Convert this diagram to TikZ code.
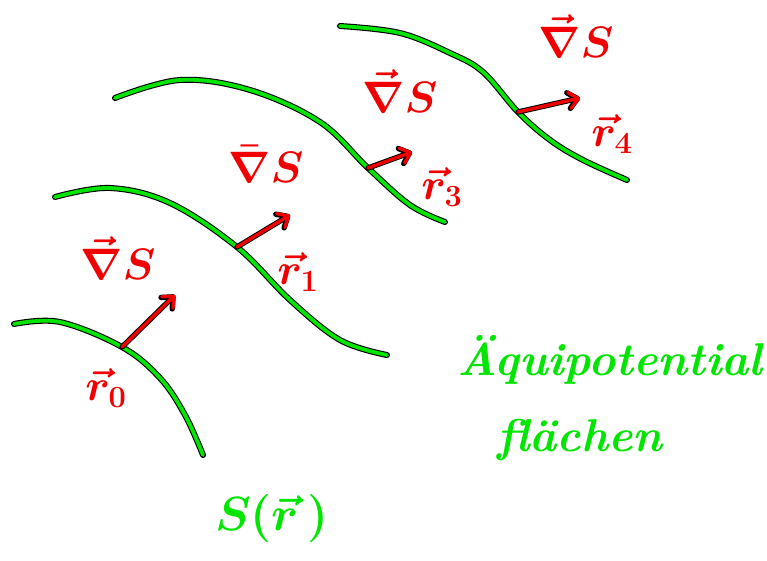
\RequirePackage{fix-cm}
\documentclass[tikz,border=0pt]{standalone}
\usetikzlibrary{arrows.meta}
\definecolor{pgreen}{RGB}{0,230,0}
\definecolor{pred}{RGB}{240,0,0}
\begin{document}
\begin{tikzpicture}[x=1pt,y=-1pt,
  surf/.style={line width=3.8pt,draw=pgreen,line cap=round,line join=round,
    preaction={draw=black,line width=6pt,line cap=round,line join=round}},
  grad/.style={line width=3.4pt,draw=pred,line cap=round,line join=round,
    -{Straight Barb[length=9pt,width=16pt,line cap=round,line join=round]},
    preaction={draw=black,line width=5.4pt,line cap=round,line join=round,
    -{Straight Barb[length=9pt,width=16pt,line cap=round,line join=round]}}},
  lab/.style={text=pred,font=\fontsize{44}{48}\selectfont\boldmath,inner sep=0pt},
  rlab/.style={text=pred,font=\fontsize{44}{48}\selectfont\boldmath,inner sep=0pt},
  glab/.style={text=pgreen,font=\fontsize{46}{50}\selectfont\itshape\bfseries,inner sep=0pt},
]
\useasboundingbox (0,0) rectangle (767,561);
\fill[white] (0,0) rectangle (767,561);
% equipotential surfaces
\draw[surf] plot[smooth,tension=0.6] coordinates {(14,324) (60,322) (122,347) (160,378) (185,415) (203,455)};
\draw[surf] plot[smooth,tension=0.6] coordinates {(55,197) (110,188) (170,203) (237,247) (290,300) (340,340) (387,355)};
\draw[surf] plot[smooth,tension=0.6] coordinates {(115,98) (180,80) (250,90) (320,122) (368,168) (410,205) (445,222)};
\draw[surf] plot[smooth,tension=0.6] coordinates {(340,26) (400,33) (450,53) (483,72) (518,112) (550,140) (583,160) (627,180)};
% points on surfaces and arrow tips
\coordinate (p0) at (122,347); \coordinate (t0) at (175,295);
\coordinate (p1) at (237,247); \coordinate (t1) at (290,215);
\coordinate (p3) at (368,168); \coordinate (t3) at (412,152);
\coordinate (p4) at (518,112); \coordinate (t4) at (580,98);
\draw[grad] (p0) -- (t0);
\draw[grad] (p1) -- (t1);
\draw[grad] (p3) -- (t3);
\draw[grad] (p4) -- (t4);
% labels
\node[lab] (g0) at (118,258) {$\vec\nabla S$};
\node[lab] (g1) at (266,164) {$\bar\nabla S$};
\node[lab] (g3) at (400,91) {$\vec\nabla S$};
\node[lab] (g4) at (576,36) {$\vec\nabla S$};
\node[rlab] (r0) at (106,388) {$\vec r_0$};
\node[rlab] (r1) at (298,272) {$\vec r_1$};
\node[rlab] (r3) at (442,187) {$\vec r_3$};
\node[rlab] (r4) at (612,134) {$\vec r_4$};
\node[glab] (aq) at (610,360) {Äquipotential};
\node[glab] (fl) at (580,440) {flächen};
\node[text=pgreen,font=\fontsize{48}{52}\selectfont\boldmath,inner sep=0pt] (sr) at (272,518) {$S(\vec r\,)$};
\end{tikzpicture}
\end{document}
